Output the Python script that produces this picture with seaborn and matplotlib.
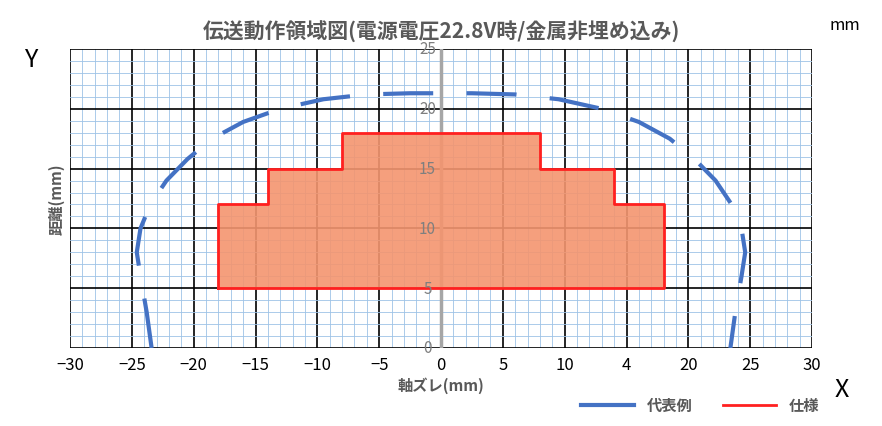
import matplotlib
matplotlib.use("Agg")
import matplotlib.pyplot as plt
import seaborn as sns
import pandas as pd
import numpy as np

plt.rcParams["font.family"] = "Noto Sans CJK JP"

# representative curve (代表例)
rep_x = [-23.4, -23.8, -24.3, -24.6, -24.3, -23.5, -22.2, -20.5, -18.5, -16.0, -13.0, -9.5, -6.0, -2.5, 0.0, 2.5, 6.0, 9.5, 13.0, 16.0, 18.5, 20.5, 22.2, 23.5, 24.3, 24.6, 24.3, 23.8, 23.4]
rep_y = [0.0, 3.0, 6.0, 8.0, 10.0, 12.0, 14.0, 15.8, 17.5, 18.9, 20.0, 20.8, 21.2, 21.3, 21.3, 21.3, 21.2, 20.8, 20.0, 18.9, 17.5, 15.8, 14.0, 12.0, 10.0, 8.0, 6.0, 3.0, 0.0]
# specification (仕様) outline
spec_x = [-18, -18, -14, -14, -8, -8, 8, 8, 14, 14, 18, 18, -18]
spec_y = [5, 12, 12, 15, 15, 18, 18, 15, 15, 12, 12, 5, 5]
xtick_vals = [-30, -25, -20, -15, -10, -5, 0, 5, 10, 15, 20, 25, 30]
xtick_labels = ["−30", "−25", "−20", "−15", "−10", "−5", "0", "5", "10", "4", "20", "25", "30"]
ytick_vals = [0, 5, 10, 15, 20, 25]

fig = plt.figure(figsize=(8.82, 4.27), dpi=100)
ax = fig.add_axes([70/882, 1-349/427, 742/882, 299/427])

for v in range(-30, 31):
    ax.axvline(v, color="#9DC3E6" if v % 5 else "black", lw=0.6 if v % 5 else 1.2, zorder=0)
for v in range(0, 26):
    ax.axhline(v, color="#9DC3E6" if v % 5 else "black", lw=0.6 if v % 5 else 1.2, zorder=0)
ax.axvline(0, color="#A6A6A6", lw=2.5, zorder=1)

ax.fill(spec_x, spec_y, color="#F4956F", alpha=0.9, zorder=2)
sns.lineplot(x=spec_x, y=spec_y, sort=False, estimator=None, color="#FF2020", lw=2, ax=ax, zorder=3, label="仕様")
sns.lineplot(x=rep_x, y=rep_y, sort=False, estimator=None, color="#4472C4", lw=3, ax=ax, zorder=4, label="代表例")
ax.lines[-1].set_dashes([12, 8])

ax.set_xlim(-30, 30)
ax.set_ylim(0, 25)
ax.set_xticks(xtick_vals)
ax.set_xticklabels(xtick_labels, fontsize=12)
ax.set_yticks([])
ax.tick_params(length=0, pad=6)
for s in ax.spines.values():
    s.set_visible(False)
for v in ytick_vals:
    ax.text(-1.1, v, str(v), color="#7F7F7F", fontsize=11, ha="center", va="center", zorder=5)

ax.set_xlabel("軸ズレ(mm)", fontsize=11, fontweight="bold", color="#595959", labelpad=2)
ax.set_ylabel("距離(mm)", fontsize=11, fontweight="bold", color="#595959", labelpad=4)
ax.set_title("伝送動作領域図(電源電圧22.8V時/金属非埋め込み)", fontsize=15, fontweight="bold", color="#595959", pad=8)

h, l = ax.get_legend_handles_labels()
leg = ax.legend(h[::-1], l[::-1], loc="center", bbox_to_anchor=(700/882, 1-406/427), bbox_transform=fig.transFigure,
                ncol=2, frameon=False, handlelength=3.5, prop={"weight": "bold", "size": 11})
for t in leg.get_texts():
    t.set_color("#595959")
leg.get_lines()[0].set_dashes([])

fig.text(32/882, 1-60/427, "Y", fontsize=18, ha="center", va="center")
fig.text(842/882, 1-390/427, "X", fontsize=18, ha="center", va="center")
fig.text(845/882, 1-25/427, "mm", fontsize=12, ha="center", va="center")

fig.savefig("out.png", dpi=100)
